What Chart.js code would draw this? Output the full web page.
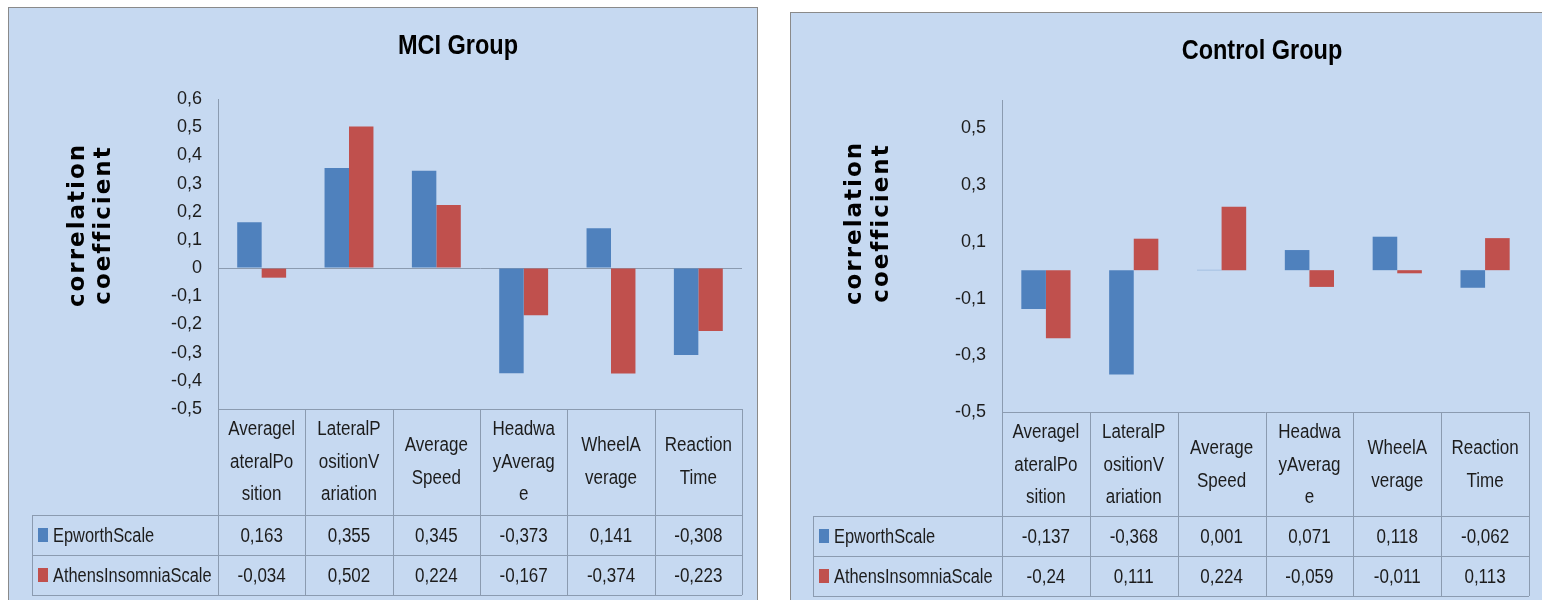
<!DOCTYPE html>
<html>
<head>
<meta charset="utf-8">
<script src="https://cdn.jsdelivr.net/npm/chart.js@4.4.1/dist/chart.umd.min.js"></script>
<style>
    html, body { margin: 0; padding: 0; background: #fff; overflow: hidden; }
    .panel { position: absolute; background: #c6d9f1; border: 1px solid #8a8a8a; }
    #mciPanel { left: 8px; top: 7px; width: 748px; height: 600px; }
    #ctrlPanel { left: 790px; top: 12px; width: 760px; height: 600px; }
    canvas { display: block; }
</style>
</head>
<body>
<div class="panel" id="mciPanel"><canvas id="mciChart" width="748" height="592"></canvas></div>
<div class="panel" id="ctrlPanel"><canvas id="ctrlChart" width="760" height="587"></canvas></div>
<script>
const categoryLines = [
    ["Averagel", "ateralPo", "sition"],
    ["LateralP", "ositionV", "ariation"],
    ["Average", "Speed"],
    ["Headwa", "yAverag", "e"],
    ["WheelA", "verage"],
    ["Reaction", "Time"],
];
const seriesNames = ["EpworthScale", "AthensInsomniaScale"];
const mciEpworth = [0.163, 0.355, 0.345, -0.373, 0.141, -0.308];
const mciAthens = [-0.034, 0.502, 0.224, -0.167, -0.374, -0.223];
const ctrlEpworth = [-0.137, -0.368, 0.001, 0.071, 0.118, -0.062];
const ctrlAthens = [-0.24, 0.111, 0.224, -0.059, -0.011, 0.113];
const yTitleLines = ["correlation", "coefficient"];

const BLUE = "#4f81bd";
const RED = "#c0504d";
const LINE = "#8b9bb0";
const TEXT = "#1c1c1c";
const SANS = '"Liberation Sans", Arial, sans-serif';

function fmt(v) {
    return String(v).replace(".", ",");
}

// squeeze Liberation Sans so it reads like the narrow office font
function narrowText(ctx, t, x, y, k) {
    ctx.fillText(t, x, y, ctx.measureText(t).width * k);
}

// data table under the plot, columns taken from the x scale
const tablePlugin = {
    id: "dataTable",
    afterDraw(chart, args, o) {
        const { ctx, chartArea: a, scales } = chart;
        const x = scales.x;
        const n = chart.data.labels.length;
        const w = (a.right - a.left) / n;
        const top = a.bottom;
        const hb = top + o.headerHeight;
        const r1 = hb + o.rowHeight;
        const r2 = r1 + o.rowHeight;
        const left = o.legendLeft;

        ctx.save();
        ctx.strokeStyle = LINE;
        ctx.lineWidth = 1;
        ctx.beginPath();
        ctx.moveTo(a.left, Math.round(top) + 0.5);
        ctx.lineTo(a.right, Math.round(top) + 0.5);
        [hb, r1, r2].forEach((y) => {
            ctx.moveTo(left, Math.round(y) + 0.5);
            ctx.lineTo(a.right, Math.round(y) + 0.5);
        });
        for (let i = 0; i <= n; i++) {
            const xx = Math.round(x.getPixelForValue(0) - w / 2 + i * w) + 0.5;
            ctx.moveTo(xx, top);
            ctx.lineTo(xx, r2);
        }
        ctx.moveTo(left + 0.5, hb);
        ctx.lineTo(left + 0.5, r2);
        ctx.stroke();

        ctx.fillStyle = TEXT;
        ctx.font = "20px " + SANS;
        ctx.textAlign = "center";
        ctx.textBaseline = "middle";
        chart.data.labels.forEach((lines, i) => {
            const cx = x.getPixelForValue(i);
            const mid = top + o.headerHeight / 2 + o.headerShift;
            lines.forEach((t, k) => {
                narrowText(ctx, t, cx, mid + (k - (lines.length - 1) / 2) * o.lineHeight, 0.85);
            });
        });

        chart.data.datasets.forEach((ds, d) => {
            const cy = hb + o.rowHeight * d + o.rowHeight / 2;
            ctx.fillStyle = ds.backgroundColor;
            ctx.fillRect(left + 6, cy - 7, 10, 14);
            ctx.fillStyle = TEXT;
            ctx.textAlign = "left";
            narrowText(ctx, ds.label, left + 21, cy + 1, 0.82);
            ctx.textAlign = "center";
            ds.data.forEach((v, i) => {
                narrowText(ctx, fmt(v), x.getPixelForValue(i), cy + 1, 0.85);
            });
        });
        ctx.restore();
    },
};

// chart title and rotated y axis title
const panelTextPlugin = {
    id: "panelText",
    afterDraw(chart, args, o) {
        const { ctx } = chart;
        ctx.save();
        ctx.fillStyle = "#000";
        ctx.font = "bold 28px " + SANS;
        ctx.textAlign = "center";
        ctx.textBaseline = "alphabetic";
        narrowText(ctx, o.title, o.titleX, o.titleY, 0.84);

        ctx.font = 'bold 23px "DejaVu Sans", sans-serif';
        ctx.letterSpacing = "2px";
        o.yLines.forEach((t, k) => {
            ctx.save();
            ctx.translate(o.yBase[k], o.yMid);
            ctx.rotate(-Math.PI / 2);
            ctx.fillText(t, 0, 0);
            ctx.restore();
        });
        ctx.restore();
    },
};

function makePanel(id, cfg) {
    return new Chart(document.getElementById(id).getContext("2d"), {
        type: "bar",
        data: {
            labels: categoryLines,
            datasets: [
                { label: seriesNames[0], data: cfg.epworth, backgroundColor: BLUE },
                { label: seriesNames[1], data: cfg.athens, backgroundColor: RED },
            ],
        },
        options: {
            responsive: false,
            animation: false,
            events: [],
            layout: { padding: cfg.padding },
            datasets: {
                bar: { categoryPercentage: 0.56, barPercentage: 1, borderWidth: 0 },
            },
            scales: {
                x: { display: false },
                y: {
                    min: -0.5,
                    max: 0.6,
                    afterFit(scale) {
                        scale.width = 60;
                    },
                    border: { display: true, color: LINE },
                    grid: {
                        drawTicks: false,
                        color: (c) => (Math.abs(c.tick.value) < 1e-9 ? LINE : "transparent"),
                    },
                    ticks: {
                        stepSize: 0.1,
                        padding: 16,
                        color: TEXT,
                        font: { family: SANS, size: 18 },
                        callback: cfg.tickLabel,
                    },
                },
            },
            plugins: {
                legend: { display: false },
                tooltip: { enabled: false },
                dataTable: cfg.table,
                panelText: cfg.text,
            },
        },
        plugins: [tablePlugin, panelTextPlugin],
    });
}

function tickAll(v) {
    if (Math.abs(v) < 1e-9) return "0";
    return v.toFixed(1).replace(".", ",");
}

function tickOdd(v) {
    const k = Math.round(Math.abs(v) * 10);
    if (k % 2 !== 1) return null;
    return v.toFixed(1).replace(".", ",");
}

window.mciChart = makePanel("mciChart", {
    epworth: mciEpworth,
    athens: mciAthens,
    padding: { top: 91, bottom: 191, left: 149, right: 15 },
    tickLabel: tickAll,
    table: { headerHeight: 106, rowHeight: 40, lineHeight: 32.5, headerShift: 0, legendLeft: 23 },
    text: { title: "MCI Group", titleX: 449, titleY: 46, yLines: yTitleLines, yBase: [75, 101], yMid: 217 },
});

window.ctrlChart = makePanel("ctrlChart", {
    epworth: ctrlEpworth,
    athens: ctrlAthens,
    padding: { top: 87, bottom: 188, left: 151, right: 22 },
    tickLabel: tickOdd,
    table: { headerHeight: 104, rowHeight: 40, lineHeight: 32.5, headerShift: 1, legendLeft: 22 },
    text: { title: "Control Group", titleX: 471, titleY: 46, yLines: yTitleLines, yBase: [70, 97], yMid: 210 },
});
</script>
</body>
</html>
